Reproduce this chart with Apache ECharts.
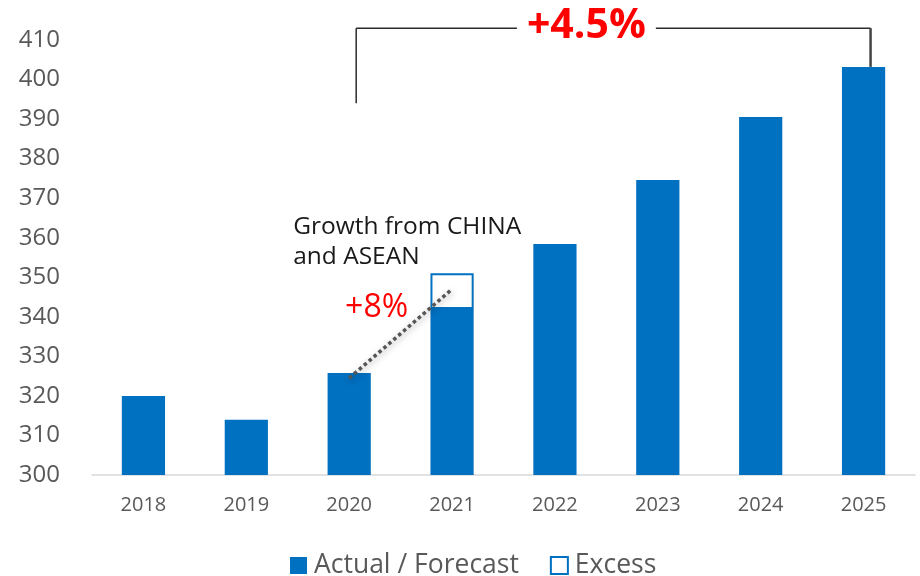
<!DOCTYPE html>
<html>
<head>
<meta charset="utf-8">
<script src="https://cdn.jsdelivr.net/npm/echarts@6/dist/echarts.min.js"></script>
<style>
  html, body { margin: 0; padding: 0; background: #fff; }
  #chart { width: 920px; height: 576px; }
</style>
</head>
<body>
<div id="chart"></div>
<script>
const years = ["2018", "2019", "2020", "2021", "2022", "2023", "2024", "2025"];
const actual = [320, 314, 325.8, 342, 358.4, 374.6, 390.5, 403.2];
const excess = [null, null, null, 9, null, null, null, null];

// annotation anchors in data space
const bracketLevel = 413;
const bracketLeftBottom = 394;
const trendFrom = ["2020", 324.5];
const trendTo = ["2021", 347];

const BLUE = "#0070C0";
const GREY = "#595959";
const FONT = "'Open Sans', 'Noto Sans', sans-serif";

const chart = echarts.init(document.getElementById("chart"));

chart.setOption({
  animation: false,
  backgroundColor: "#fff",
  textStyle: { fontFamily: FONT },
  grid: { left: 92, right: 5, top: 40, bottom: 101 },
  legend: {
    top: 547,
    left: 285,
    itemWidth: 17,
    itemHeight: 17,
    itemGap: 31,
    textStyle: { color: GREY, fontSize: 26.5, fontFamily: FONT, padding: [0, 0, 0, 2] },
    data: [
      { name: "Actual / Forecast", icon: "rect" },
      { name: "Excess", icon: "rect", itemStyle: { color: "#fff", borderColor: BLUE, borderWidth: 2 } },
    ],
  },
  xAxis: {
    type: "category",
    data: years,
    axisTick: { show: false },
    axisLine: { lineStyle: { color: "#d9d9d9", width: 1.5 } },
    axisLabel: { color: GREY, fontSize: 20, margin: 20 },
  },
  yAxis: {
    type: "value",
    min: 300,
    max: 410,
    interval: 10,
    splitLine: { show: false },
    axisLine: { show: false },
    axisTick: { show: false },
    axisLabel: { color: GREY, fontSize: 24, margin: 32 },
  },
  series: [
    {
      name: "Actual / Forecast",
      type: "bar",
      stack: "total",
      data: actual,
      barWidth: "42%",
      itemStyle: { color: BLUE },
    },
    {
      name: "Excess",
      type: "bar",
      stack: "total",
      data: excess,
      barWidth: "42%",
      itemStyle: { color: "#fff", borderColor: BLUE, borderWidth: 2 },
    },
  ],
});

function px(cat, v) {
  return chart.convertToPixel({ xAxisIndex: 0, yAxisIndex: 0 }, [cat, v]);
}

function drawAnnotations() {
  const lt = px("2020", bracketLevel);
  const lb = px("2020", bracketLeftBottom);
  const rt = px("2025", bracketLevel);
  const rb = px("2025", actual[7]);
  const off = 7;
  const a = px(trendFrom[0], trendFrom[1]);
  const b = px(trendTo[0], trendTo[1]);
  const lineStyle = { stroke: "#2b2b2b", lineWidth: 1.5 };

  chart.setOption({
    graphic: [
      { type: "line", shape: { x1: lt[0] + off, y1: lt[1], x2: rt[0] + off, y2: rt[1] }, style: lineStyle, z: 10 },
      { type: "line", shape: { x1: lt[0] + off, y1: lt[1], x2: lb[0] + off, y2: lb[1] }, style: lineStyle, z: 10 },
      { type: "line", shape: { x1: rt[0] + off, y1: rt[1], x2: rb[0] + off, y2: rb[1] }, style: { stroke: "#444", lineWidth: 2.5 }, z: 10 },
      {
        type: "text",
        x: (lt[0] + rt[0]) / 2 - 20,
        y: lt[1] - 2,
        z: 11,
        style: {
          text: "+4.5%",
          fill: "#ff0000",
          font: "bold 41px " + FONT,
          align: "center",
          verticalAlign: "middle",
          backgroundColor: "#fff",
          padding: [0, 10],
        },
      },
      {
        type: "line",
        shape: { x1: a[0], y1: a[1], x2: b[0], y2: b[1] },
        style: {
          stroke: "#555",
          lineWidth: 3.5,
          lineDash: [3.5, 3],
          shadowBlur: 6,
          shadowColor: "rgba(0,0,0,0.35)",
          shadowOffsetX: 1,
          shadowOffsetY: 2,
        },
        z: 12,
      },
      {
        type: "text",
        x: (a[0] + b[0]) / 2 - 24,
        y: (a[1] + b[1]) / 2 - 26,
        z: 12,
        style: { text: "+8%", fill: "#ff0000", font: "32px " + FONT, align: "center", verticalAlign: "middle" },
      },
      {
        type: "text",
        x: a[0] - 56,
        y: px("2020", 360)[1] - 26,
        z: 12,
        style: { text: "Growth from CHINA\nand ASEAN", fill: "#1a1a1a", font: "24.5px " + FONT, lineHeight: 30, align: "left", verticalAlign: "top" },
      },
    ],
  });
}

drawAnnotations();
</script>
</body>
</html>
